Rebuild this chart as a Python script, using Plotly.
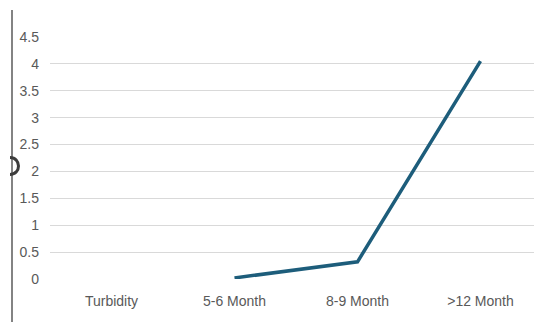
import plotly.graph_objects as go

# Categories and the measured series (no reading for Turbidity)
categories = ["Turbidity", "5-6 Month", "8-9 Month", ">12 Month"]
values = [None, 0.02, 0.32, 4.05]
y_ticks = [0, 0.5, 1, 1.5, 2, 2.5, 3, 3.5, 4, 4.5]

W, H = 534, 322
ML, MR, MT, MB = 50, 0, 37, 43
PW, PH = W - ML - MR, H - MT - MB


def px_x(px):
    return (px - ML) / PW


def px_y(py):
    return (H - MB - py) / PH


fig = go.Figure()
fig.add_trace(go.Scatter(
    x=list(range(len(categories))),
    y=values,
    mode="lines",
    line=dict(color="#1d5d7b", width=3.5),
    connectgaps=False,
    hoverinfo="skip",
))

font = dict(family="Liberation Sans Narrow, Liberation Sans, Arial", size=14, color="#595959")

fig.update_layout(
    width=W, height=H,
    margin=dict(l=ML, r=MR, t=MT, b=MB),
    paper_bgcolor="white", plot_bgcolor="white",
    showlegend=False,
    xaxis=dict(
        tickmode="array",
        tickvals=list(range(len(categories))),
        ticktext=categories,
        range=[-0.5, -0.5 + PW / 123],
        showgrid=False, zeroline=False, showline=False,
        ticks="", tickfont=font, ticklabelstandoff=12,
    ),
    yaxis=dict(
        range=[0, 4.5],
        tickmode="array",
        tickvals=y_ticks,
        ticktext=[f"{v:g}" for v in y_ticks],
        showgrid=True, gridcolor="#d9d9d9", gridwidth=1,
        zeroline=False, showline=False,
        ticks="", tickfont=font, ticklabelstandoff=10,
    ),
)

# left border rule and the small ring on it
fig.add_shape(type="line", xref="paper", yref="paper",
              x0=px_x(12), x1=px_x(12), y0=px_y(10), y1=px_y(322),
              line=dict(color="#5a5a5a", width=1.5))
cx, cy, r = 10, 166, 8.5
k = 1.333 * r
path = (f"M {px_x(cx)},{px_y(cy - r)} "
        f"C {px_x(cx + k)},{px_y(cy - r)} {px_x(cx + k)},{px_y(cy + r)} {px_x(cx)},{px_y(cy + r)}")
fig.add_shape(type="path", xref="paper", yref="paper", path=path,
              line=dict(color="#3c3c3c", width=3))

fig.write_html("out.html")
